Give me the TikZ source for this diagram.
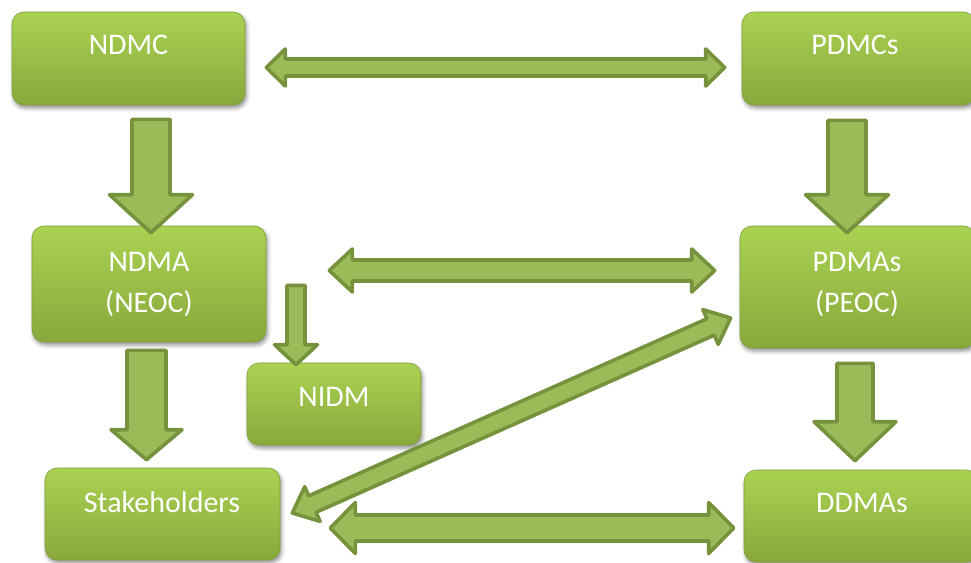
\documentclass[tikz,border=0pt]{standalone}
\usepackage{fontspec}
\setmainfont{Carlito}
\usetikzlibrary{calc,shadows.blur}
\definecolor{arrowfill}{RGB}{155,187,89}
\definecolor{arrowline}{RGB}{118,146,60}
\definecolor{boxtop}{RGB}{170,210,82}
\definecolor{boxbot}{RGB}{136,168,60}
\definecolor{boxedge}{RGB}{128,160,56}
\tikzset{
  greenbox/.style={rounded corners=12pt, top color=boxtop, bottom color=boxbot,
    draw=boxedge, line width=0.6pt, inner sep=0pt,
    blur shadow={shadow xshift=1.5pt, shadow yshift=-3pt, shadow blur radius=4pt, shadow opacity=45}},
  boxtext/.style={text=white, font=\fontsize{30pt}{41pt}\selectfont, align=center, inner sep=0pt},
  arrowbody/.style={fill=arrowfill, draw=arrowline, line width=3.6pt, line join=round},
}
% #1 tail, #2 tip, #3 shaft half width, #4 head half width, #5 head length
\newcommand\sglarrow[5]{%
  \path[arrowbody] let \p1=(#1), \p2=(#2), \n2={veclen(\x2-\x1,\y2-\y1)} in
    [shift={(\p1)}, rotate={atan2(\y2-\y1,\x2-\x1)}]
    (0pt,#3pt) -- (\n2-#5pt,#3pt) -- (\n2-#5pt,#4pt) -- (\n2,0pt)
    -- (\n2-#5pt,-#4pt) -- (\n2-#5pt,-#3pt) -- (0pt,-#3pt) -- cycle;}
\newcommand\dblarrow[5]{%
  \path[arrowbody] let \p1=(#1), \p2=(#2), \n2={veclen(\x2-\x1,\y2-\y1)} in
    [shift={(\p1)}, rotate={atan2(\y2-\y1,\x2-\x1)}]
    (0pt,0pt) -- (#5pt,#4pt) -- (#5pt,#3pt) -- (\n2-#5pt,#3pt) -- (\n2-#5pt,#4pt)
    -- (\n2,0pt) -- (\n2-#5pt,-#4pt) -- (\n2-#5pt,-#3pt) -- (#5pt,-#3pt) -- (#5pt,-#4pt) -- cycle;}
\begin{document}
\begin{tikzpicture}[x=1pt,y=-1pt]
\path[use as bounding box] (0,0) rectangle (971,562);
\clip (0,0) rectangle (971,562);
% boxes
\node[greenbox, minimum width=233pt, minimum height=93pt] (ndmc) at (128.5,58.5) {};
\node[greenbox, minimum width=233pt, minimum height=93pt] (pdmcs) at (858.5,58.5) {};
\node[greenbox, minimum width=234pt, minimum height=116pt] (ndma) at (149,284) {};
\node[greenbox, minimum width=235pt, minimum height=122pt] (pdmas) at (857.5,287) {};
\node[greenbox, minimum width=174pt, minimum height=82pt] (nidm) at (334,404) {};
\node[greenbox, minimum width=235pt, minimum height=92pt] (stake) at (162.5,514) {};
\node[greenbox, minimum width=234pt, minimum height=92pt] (ddmas) at (861,516) {};
% texts
\node[boxtext] (ndmc-t) at (128.5,45) {NDMC};
\node[boxtext] (pdmcs-t) at (855,45) {PDMCs};
\node[boxtext] (ndma-t) at (149,284) {NDMA\\(NEOC)};
\node[boxtext] (pdmas-t) at (857,284) {PDMAs\\(PEOC)};
\node[boxtext] (nidm-t) at (334,397) {NIDM};
\node[boxtext] (stake-t) at (162,502) {Stakeholders};
\node[boxtext] (ddmas-t) at (862,503) {DDMAs};
% connector end points
\coordinate (a1s) at ($(ndmc.east)+(21,9)$);
\coordinate (a1e) at ($(pdmcs.west)+(-17,9)$);
\coordinate (a2s) at ($(ndma.east)+(63,-13.5)$);
\coordinate (a2e) at ($(pdmas.west)+(-25,-16.5)$);
\coordinate (a3s) at ($(stake.east)+(50,14)$);
\coordinate (a3e) at ($(ddmas.west)+(-10,12)$);
\coordinate (a4s) at ($(stake.east)+(12,-1)$);
\coordinate (a4e) at ($(pdmas.west)+(-9,31)$);
\coordinate (v1s) at ($(ndma.north |- ndmc.south)+(2,14)$);
\coordinate (v1e) at ($(ndma.north)+(2,7)$);
\coordinate (v2s) at ($(pdmas.north |- pdmcs.south)+(-10.5,15)$);
\coordinate (v2e) at ($(pdmas.north)+(-10.5,7)$);
\coordinate (v3s) at ($(stake.north |- ndma.south)+(-16,8)$);
\coordinate (v3e) at ($(stake.north)+(-16,-8)$);
\coordinate (v4s) at ($(ddmas.north |- pdmas.south)+(-6,15)$);
\coordinate (v4e) at ($(ddmas.north)+(-6,-9)$);
\coordinate (v5s) at ($(nidm.north |- ndma.south)+(-38,-57)$);
\coordinate (v5e) at ($(nidm.north)+(-38,2)$);
% block arrows
\dblarrow{a1s}{a1e}{8.5}{18.5}{19}
\dblarrow{a2s}{a2e}{10.5}{21.5}{23}
\dblarrow{a3s}{a3e}{13}{25.5}{25}
\dblarrow{a4s}{a4e}{9}{19}{22}
\sglarrow{v1s}{v1e}{19}{41.5}{38}
\sglarrow{v2s}{v2e}{19}{41.5}{38}
\sglarrow{v3s}{v3e}{19.5}{35.5}{30}
\sglarrow{v4s}{v4e}{18}{41}{39}
\sglarrow{v5s}{v5e}{9}{21.5}{20}
\end{tikzpicture}
\end{document}
